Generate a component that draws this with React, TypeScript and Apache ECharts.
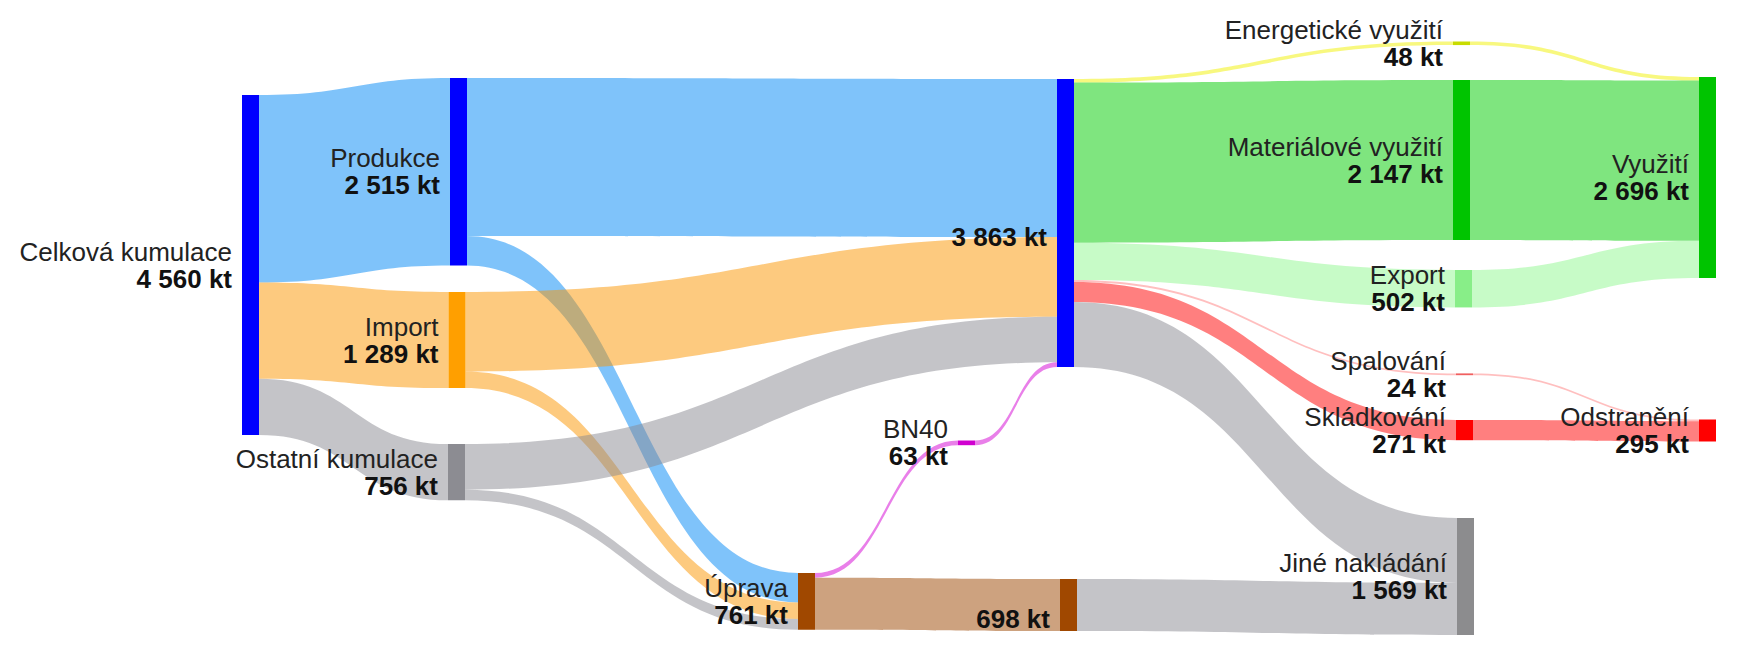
import React, { useEffect, useRef } from "react";
import * as echarts from "echarts";

// ---------- DATA ----------
const nodeNames = [
  "Celková kumulace",
  "Produkce",
  "Import",
  "Ostatní kumulace",
  "Sloučeno",
  "Úprava",
  "Energetické využití",
  "Materiálové využití",
  "Export",
  "Spalování",
  "Skládkování",
  "Jiné nakládání",
  "BN40",
  "Upraveno",
  "Využití",
  "Odstranění",
];
const nodeLabels = [
  "Celková kumulace",
  "Produkce",
  "Import",
  "Ostatní kumulace",
  "",
  "Úprava",
  "Energetické využití",
  "Materiálové využití",
  "Export",
  "Spalování",
  "Skládkování",
  "Jiné nakládání",
  "BN40",
  "",
  "Využití",
  "Odstranění",
];
const nodeValues = [4560, 2515, 1289, 756, 3863, 761, 48, 2147, 502, 24, 271, 1569, 63, 698, 2696, 295];

const linkSources = [
  "Celková kumulace", "Celková kumulace", "Celková kumulace",
  "Produkce", "Produkce", "Import", "Import", "Ostatní kumulace", "Ostatní kumulace",
  "Úprava", "Úprava", "BN40",
  "Sloučeno", "Sloučeno", "Sloučeno", "Sloučeno", "Sloučeno", "Sloučeno",
  "Upraveno",
  "Energetické využití", "Materiálové využití", "Export", "Spalování", "Skládkování",
];
const linkTargets = [
  "Produkce", "Import", "Ostatní kumulace",
  "Sloučeno", "Úprava", "Sloučeno", "Úprava", "Sloučeno", "Úprava",
  "BN40", "Upraveno", "Sloučeno",
  "Energetické využití", "Materiálové využití", "Export", "Spalování", "Skládkování", "Jiné nakládání",
  "Jiné nakládání",
  "Využití", "Využití", "Využití", "Odstranění", "Odstranění",
];
const linkValues = [
  2515, 1289, 756,
  2120, 395, 1067, 222, 612, 144,
  63, 698, 63,
  48, 2147, 502, 24, 271, 871,
  698,
  48, 2147, 502, 24, 271,
];

// ---------- STYLE / LAYOUT ----------
const W = 1748;
const H = 654;
const KY = 340 / 4560; // px per kt
const NODE_W = 17;
const FONT = "Liberation Sans, Arial, sans-serif";

// layout grouping (column index used by ECharts for stacking / ordering)
const nodeDepth = [0, 1, 1, 1, 2, 2, 3, 3, 3, 3, 3, 3, 3, 3, 4, 4];
// node top-left positions in px
const nodePos: [number, number][] = [
  [242, 95],
  [450, 78],
  [448.5, 292],
  [448, 444],
  [1057, 79],
  [798, 573],
  [1453, 41.5],
  [1453, 80],
  [1455, 270],
  [1456, 373.4],
  [1456, 420],
  [1457, 518],
  [958, 440.5],
  [1060, 579],
  [1699, 77],
  [1699, 419.5],
];
const nodeColors = [
  "#0000ff", "#0000ff", "#ff9f00", "#8c8c92", "#0000ff", "#a04800",
  "#c8dc00", "#00c400", "#88ee88", "#f06060", "#ff0000", "#8c8c8e",
  "#d000d0", "#a04800", "#00c400", "#ff0000",
];
const BLUE = "#0088f5";
const ORANGE = "#fb9500";
const GRAY = "#898991";
const MAGENTA = "#d400d4";
const BROWN = "#9c4600";
const YELLOW = "#f2f200";
const GREEN = "#00cc00";
const LGREEN = "#90f890";
const LRED = "#ff8080";
const RED = "#ff0000";
const linkColors = [
  BLUE, ORANGE, GRAY,
  BLUE, BLUE, ORANGE, ORANGE, GRAY, GRAY,
  MAGENTA, BROWN, MAGENTA,
  YELLOW, GREEN, LGREEN, LRED, RED, GRAY,
  GRAY,
  YELLOW, GREEN, LGREEN, LRED, RED,
];

const fmt = (v: number) => String(v).replace(/\B(?=(\d{3})+(?!\d))/g, " ") + " kt";

export default function App() {
  const ref = useRef<HTMLDivElement>(null);
  useEffect(() => {
    document.body.style.margin = "0";
    if (!ref.current) return;
    const chart = echarts.init(ref.current, undefined, { renderer: "svg" });

    // column with the outputs (+ BN40 + treated) binds the vertical scale
    const colSum = nodeValues.reduce((s, v, i) => (nodeDepth[i] === 3 ? s + v : s), 0);
    const colCount = nodeDepth.filter((d) => d === 3).length;
    const gap = (H - KY * colSum) / (colCount - 1);

    const data = nodeNames.map((name, i) => ({
      name,
      value: nodeValues[i],
      depth: nodeDepth[i],
      localX: nodePos[i][0] / W,
      localY: nodePos[i][1] / H,
      itemStyle: { color: nodeColors[i], borderWidth: 0 },
      label: {
        formatter: () => `{n|${nodeLabels[i] || " "}}\n{v|${fmt(nodeValues[i])}}`,
      },
    }));
    const links = linkSources.map((s, i) => ({
      source: s,
      target: linkTargets[i],
      value: linkValues[i],
      lineStyle: { color: linkColors[i], opacity: 0.5 },
    }));

    chart.setOption({
      animation: false,
      series: [
        {
          type: "sankey",
          left: 0,
          top: 0,
          width: W,
          height: H,
          nodeWidth: NODE_W,
          nodeGap: gap,
          nodeAlign: "left",
          layoutIterations: 0,
          draggable: false,
          emphasis: { disabled: true },
          data,
          links,
          lineStyle: { curveness: 0.5 },
          label: {
            show: true,
            position: "left",
            distance: 10,
            align: "right",
            fontFamily: FONT,
            rich: {
              n: {
                fontSize: 26,
                lineHeight: 27,
                color: "#222222",
                fontFamily: FONT,
                align: "right",
              },
              v: {
                fontSize: 26,
                lineHeight: 27,
                fontWeight: "bold",
                color: "#111111",
                fontFamily: FONT,
                align: "right",
              },
            },
          },
        },
      ],
    });
    return () => chart.dispose();
  }, []);
  return <div ref={ref} style={{ width: W, height: H }} />;
}
